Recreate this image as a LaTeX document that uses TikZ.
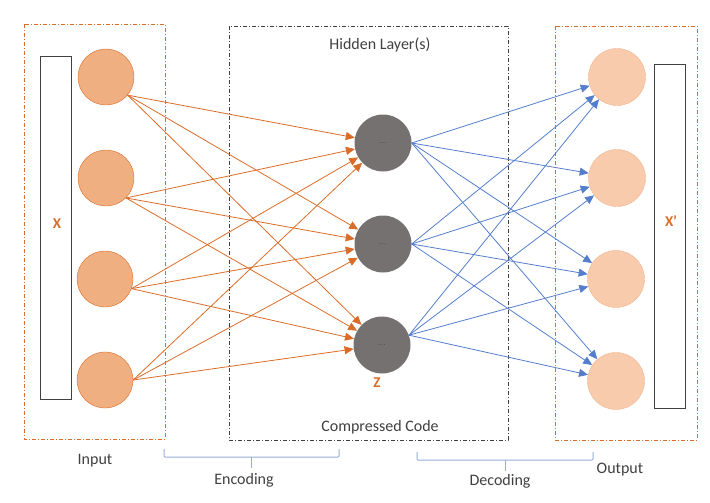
\documentclass[tikz,border=0pt]{standalone}
\usepackage{fontspec}
\setmainfont{Carlito}
\usetikzlibrary{arrows.meta}
\definecolor{codeorange}{RGB}{218,108,40}
\definecolor{inputfill}{RGB}{240,175,128}
\definecolor{outputfill}{RGB}{248,203,173}
\definecolor{outputline}{RGB}{244,180,140}
\definecolor{hiddenfill}{RGB}{118,113,113}
\definecolor{codeblue}{RGB}{84,126,204}
\definecolor{bracecolor}{RGB}{150,172,215}
\definecolor{labelgray}{RGB}{64,64,64}
\begin{document}
\begin{tikzpicture}[x=1pt, y=-1pt,
    inputunit/.style ={circle, draw=codeorange, fill=inputfill, minimum size=56pt, inner sep=0pt},
    hiddenunit/.style ={circle, fill=hiddenfill, minimum size=57pt, inner sep=0pt},
    outputunit/.style ={circle, draw=outputline, fill=outputfill, minimum size=57pt, inner sep=0pt},
    layerbox/.style ={line width=0.8pt, dash pattern=on 4pt off 2pt on 1pt off 2pt},
    vectorbox/.style ={draw=labelgray, line width=0.9pt},
    caption/.style ={text=labelgray, font=\fontsize{16}{19}\selectfont},
    vectorlabel/.style ={text=codeorange, font=\fontsize{15}{18}\selectfont\bfseries},
    encode/.style ={draw=codeorange, line width=0.8pt, -{Triangle[length=9pt, width=8pt]}},
    decode/.style ={draw=codeblue, line width=0.8pt, -{Triangle[length=9pt, width=8pt]}},
    bracket/.style ={draw=bracecolor, line width=1pt}]
   \useasboundingbox (0,0) rectangle (710,503);
   % layer boxes
   \draw[layerbox, draw=codeorange] (24,24) rectangle (165,439);
   \draw[layerbox, draw=labelgray] (229,26) rectangle (508,440);
   \draw[layerbox, draw=codeorange] (555,26) rectangle (697,440);
   % input and output vectors
   \draw[vectorbox] (40,56) rectangle (71,399);
   \draw[vectorbox] (654,64) rectangle (685,408);
   \node[vectorlabel] (X) at (57,224) {X};
   \node[vectorlabel] (Xp) at (671,221) {X’};
   % units
   \node[inputunit] (I1) at (106,77)  {};
   \node[inputunit] (I2) at (106,178) {};
   \node[inputunit] (I3) at (105,279) {};
   \node[inputunit] (I4) at (105,380) {};
   \node[hiddenunit] (H1) at (383,143) {\tiny . . .};
   \node[hiddenunit] (H2) at (383,244) {\tiny . . .};
   \node[hiddenunit] (H3) at (382,345) {\tiny . . .};
   \node[outputunit] (O1) at (617,77)  {};
   \node[outputunit] (O2) at (617,178) {};
   \node[outputunit] (O3) at (616,279) {};
   \node[outputunit] (O4) at (616,381) {};
   \node[vectorlabel] (Z) at (377,383) {Z};
   % encoding
   \draw[encode] (I1.-40) to (H1);
   \draw[encode] (I1.-40) to (H2);
   \draw[encode] (I1.-40) to (H3);
   \draw[encode] (I2.-45) to (H1);
   \draw[encode] (I2.-45) to (H2);
   \draw[encode] (I2.-45) to (H3);
   \draw[encode] (I3.-20) to (H1);
   \draw[encode] (I3.-20) to (H2);
   \draw[encode] (I3.-20) to (H3);
   \draw[encode] (I4.east) to (H1);
   \draw[encode] (I4.east) to (H2);
   \draw[encode] (I4.east) to (H3);
   % decoding
   \draw[decode] (H1.east) to (O1);
   \draw[decode] (H1.east) to (O2);
   \draw[decode] (H1.east) to (O3);
   \draw[decode] (H1.east) to (O4);
   \draw[decode] (H2.east) to (O1);
   \draw[decode] (H2.east) to (O2);
   \draw[decode] (H2.east) to (O3);
   \draw[decode] (H2.east) to (O4);
   \draw[decode] (H3.20) to (O1);
   \draw[decode] (H3.20) to (O2);
   \draw[decode] (H3.20) to (O3);
   \draw[decode] (H3.20) to (O4);
   % captions
   \node[caption] (hiddentitle) at (380,45) {Hidden Layer(s)};
   \node[caption] (codetitle) at (380,427) {Compressed Code};
   \node[caption] (inputtitle) at (95,461) {Input};
   \node[caption] (outputtitle) at (620,470) {Output};
   \node[caption] (enctitle) at (244,480) {Encoding};
   \node[caption] (dectitle) at (500,481) {Decoding};
   % brackets
   \draw[bracket, rounded corners=1pt] (164,449) -- (164,457) -- (339,457) -- (339,449);
   \draw[bracket] (251,457) -- (251,468);
   \draw[bracket, rounded corners=1pt] (417,452) -- (417,460) -- (593,460) -- (593,452);
   \draw[bracket] (505,460) -- (505,471);
\end{tikzpicture}
\end{document}
